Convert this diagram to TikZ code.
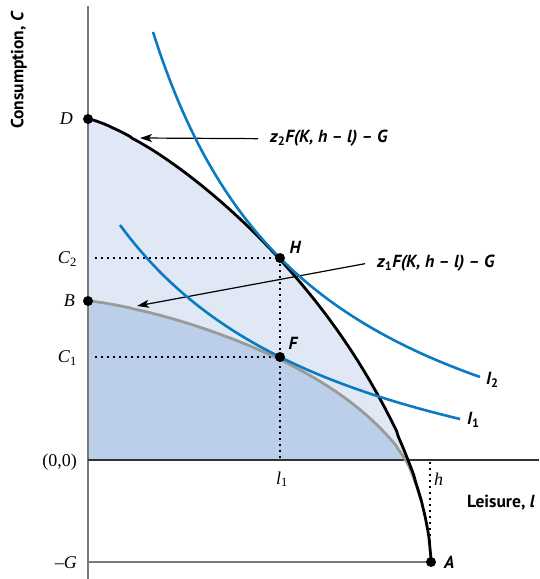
\documentclass[tikz,border=0pt]{standalone}
\usepackage{fontspec}
\setmainfont{Liberation Serif}
\newfontfamily\lblsans{PT Sans}
\usepackage{tikz}
\usetikzlibrary{arrows.meta, positioning}
\definecolor{curveblue}{HTML}{0A7BC2}
\definecolor{ppflight}{HTML}{E1E8F5}
\definecolor{ppfdark}{HTML}{BBCFEA}
\definecolor{ppfgray}{HTML}{9A9A9A}
\definecolor{axisgray}{HTML}{7A7A7A}
\definecolor{axisdark}{HTML}{333333}

\begin{document}
\begin{tikzpicture}[x=1pt, y=1pt,
  dot/.style={circle, fill=black, inner sep=0pt, minimum size=10pt},
  tick/.style={font=\fontsize{18}{20}\selectfont, inner sep=2pt},
  lbl/.style={font=\lblsans\fontsize{17.5}{19}\selectfont\bfseries\itshape, inner sep=2pt},
  axlbl/.style={font=\lblsans\fontsize{17.5}{19}\selectfont\bfseries},
  guide/.style={line width=1.6pt, dash pattern=on 1.6pt off 4.4pt},
  ppf/.style={line width=2.8pt},
  indiff/.style={curveblue, line width=2.6pt},
  ptr/.style={-{Stealth[length=12pt, width=8pt, inset=3pt]}, line width=1.2pt}
]
\useasboundingbox (-88,-119) rectangle (451,460);

\coordinate (O) at (0,0);
\coordinate (ytop) at (0,454);
\coordinate (ybot) at (0,-119);
\coordinate (xend) at (451,0);
\coordinate (G) at (0,-102);
\coordinate (D) at (0,341);
\coordinate (B) at (0,159);
\coordinate (H) at (192,202);
\coordinate (F) at (192,103);
\coordinate (A) at (343,-102);
\coordinate (C2) at (7,202);
\coordinate (C1) at (7,103);
\coordinate (l1) at (192,0);
\coordinate (htop) at (342,-2);
\coordinate (hbot) at (342,-96);
\coordinate (z2tip) at (52,322);
\coordinate (z1tip) at (49,154);
\coordinate (graycut) at (318,0);
\coordinate (graymeet) at (333,-40);

% shaded regions under the two frontiers
\fill[ppflight] (O) -- plot[smooth, domain=0.01:320, samples=120] (\x,{-102+443*(1-(\x/343)^1.3)^0.6}) -- cycle;
\fill[ppfdark] (O) -- plot[smooth, domain=0.01:318, samples=120] (\x,{-102+261*(1-(\x/343)^1.3)^0.4}) -- cycle;

% axes
\draw[axisgray, line width=1.4pt] (ybot) -- (ytop);
\draw[axisdark, line width=1.4pt] (O) -- (xend);
\draw[axisgray, line width=1.4pt] (G) -- (A);

% guides
\draw[guide] (C2) -- (H);
\draw[guide] (H) -- (l1);
\draw[guide] (C1) -- (F);
\draw[guide] (htop) -- (hbot);

% frontiers
\draw[ppfgray, ppf] plot[smooth, domain=0.01:318, samples=160] (\x,{-102+261*(1-(\x/343)^1.3)^0.4})
  .. controls (322,-7) and (328,-24) .. (graymeet);
\draw[ppf] plot[smooth, domain=0.01:342.9, samples=180] (\x,{-102+443*(1-(\x/343)^1.3)^0.6}) -- (A);

% labels and pointers
\node[lbl, anchor=base west] (z2lbl) at (180,317) {z\textsubscript{\upshape 2}F(K, h \textendash\ l) \textendash\ G};
\node[lbl, anchor=base west] (z1lbl) at (287,192) {z\textsubscript{\upshape 1}F(K, h \textendash\ l) \textendash\ G};
\draw[ptr] ([xshift=-10pt]z2lbl.west) -- (z2tip);
\draw[ptr] ([xshift=-10pt]z1lbl.west) -- (z1tip);

% indifference curves
\draw[indiff] plot[smooth, domain=65:392, samples=60] (\x,{-90.2+850.88/((\x+99.2)/100)});
\draw[indiff] plot[smooth, domain=32:372, samples=60] (\x,{-98.05+811.65/((\x+211.7)/100)});

% points
\node[dot] (Ddot) at (D) {};
\node[dot] (Bdot) at (B) {};
\node[dot] (Hdot) at (H) {};
\node[dot] (Fdot) at (F) {};
\node[dot] (Adot) at (A) {};

\node[lbl, anchor=base] (Hlbl) at (207,206) {H};
\node[lbl, anchor=base] (Flbl) at (205,110) {F};
\node[lbl, anchor=base west] (Albl) at (354,-108) {A};
\node[lbl, anchor=base west] (I2lbl) at (396,75) {I\textsubscript{\upshape 2}};
\node[lbl, anchor=base west] (I1lbl) at (377,35) {I\textsubscript{\upshape 1}};

% axis ticks
\node[tick, anchor=base east] (Dtick) at (-13,335.5) {\textit{D}};
\node[tick, anchor=base east] (Btick) at (-11,153.5) {\textit{B}};
\node[tick, anchor=base east] (C2tick) at (-9,196) {\textit{C}\textsubscript{2}};
\node[tick, anchor=base east] (C1tick) at (-9,97) {\textit{C}\textsubscript{1}};
\node[tick, anchor=base east] (Otick) at (-9,-6) {(0,0)};
\node[tick, anchor=base east] (Gtick) at (-9,-108.5) {\textendash\textit{G}};
\node[tick, anchor=base] (l1tick) at (194,-24) {\textit{l}\textsubscript{1}};
\node[tick, anchor=base west] (htick) at (344,-25) {\textit{h}};

\node[axlbl, rotate=90] (ylbl) at (-69,390) {Consumption, \textit{C}};
\node[axlbl] (xlbl) at (413,-43) {Leisure, \textit{l}};
\end{tikzpicture}
\end{document}
